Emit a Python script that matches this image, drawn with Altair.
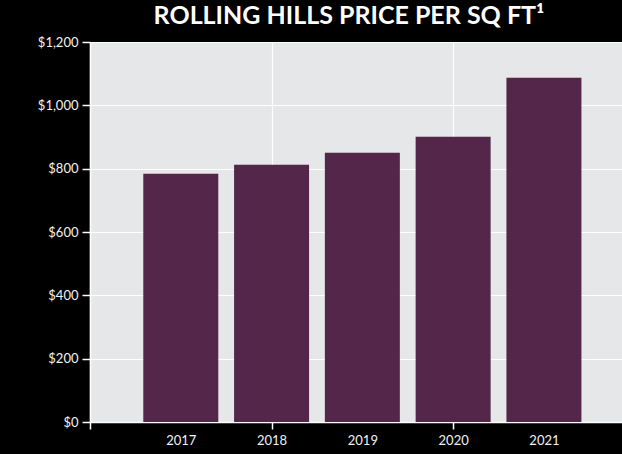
import altair as alt
import pandas as pd

years = [2017, 2018, 2019, 2020, 2021]
price = [784, 812, 850, 901, 1087]

df = pd.DataFrame({"year": years, "price": price})

half = 0.413

x_axis = alt.Axis(
    values=list(range(2016, 2023)),
    format="d",
    title=None,
    labelColor="#f2f2f2",
    labelFont="Lato",
    labelFontSize=13,
    labelPadding=5,
    labelExpr="(datum.value == 2016 || datum.value == 2022) ? '' : datum.label",
    tickOpacity={"condition": {"test": "datum.value % 2 == 0", "value": 1}, "value": 0},
    gridOpacity={"condition": {"test": "datum.value % 2 == 0", "value": 1}, "value": 0},
    tickColor="#ffffff",
    tickSize=7,
    tickWidth=1.5,
    domainColor="#ffffff",
    domainWidth=1.5,
    gridColor="#ffffff",
    gridWidth=1.2,
)

y_axis = alt.Axis(
    values=[0, 200, 400, 600, 800, 1000, 1200],
    format="$,d",
    title=None,
    labelColor="#f2f2f2",
    labelFont="Lato",
    labelFontSize=13,
    labelPadding=4,
    tickColor="#ffffff",
    tickSize=8,
    tickWidth=1.5,
    domainColor="#ffffff",
    domainWidth=1.5,
    gridColor="#ffffff",
    gridWidth=1.2,
)

chart = (
    alt.Chart(df)
    .transform_calculate(x0=f"datum.year - {half}", x1=f"datum.year + {half}")
    .mark_rect(color="#53264a")
    .encode(
        x=alt.X("x0:Q", scale=alt.Scale(domain=[2016, 2021.86], nice=False, zero=False), axis=x_axis),
        x2="x1:Q",
        y=alt.Y("price:Q", scale=alt.Scale(domain=[0, 1200], nice=False), axis=y_axis),
        y2=alt.datum(0),
    )
    .properties(
        width=532,
        height=380,
        title=alt.TitleParams(
            text="ROLLING HILLS PRICE PER SQ FT\u00b9",
            color="#ffffff",
            font="Lato",
            fontSize=25,
            fontWeight="bold",
            anchor="middle",
            frame="group",
            offset=7,
            dx=-7,
        ),
        background="#000000",
        padding={"left": 90, "top": 42, "right": 0, "bottom": 32},
        autosize=alt.AutoSizeParams(type="none"),
    )
    .configure_view(fill="#e6e7e8", stroke=None)
)

chart.save("out.html", embed_options={"renderer": "svg", "actions": False})
